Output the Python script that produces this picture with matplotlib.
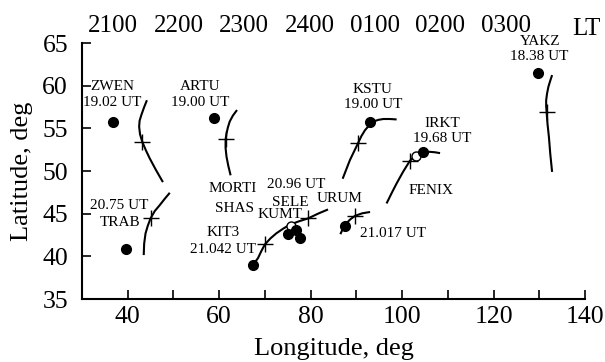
import matplotlib
matplotlib.use("Agg")
import matplotlib.pyplot as plt

plt.rcParams['font.family'] = ['Liberation Serif', 'DejaVu Serif']

# ---- data (lon, lat in degrees) ----
# station positions (filled dots)
dot_lon = [36.7, 58.8, 39.6, 67.3, 75.1, 76.8, 77.6, 87.5, 93.0, 104.5, 129.8]
dot_lat = [55.7, 56.2, 40.9, 39.0, 42.6, 43.1, 42.1, 43.6, 55.7, 52.2, 61.5]

# open markers
open_lon = [103.0, 75.8]
open_lat = [51.75, 43.5]

# crosses on tracks
cross_lon = [43.2, 45.0, 61.4, 70.0, 79.45, 89.7, 90.4, 101.7, 131.6]
cross_lat = [53.4, 44.45, 53.7, 41.4, 44.45, 44.75, 53.3, 51.2, 56.9]

# tracks
zwen_lon = [44.2, 43.6, 43.0, 42.6, 42.5, 42.7, 43.2, 44.0, 44.8, 46.2, 47.7]
zwen_lat = [58.3, 57.5, 56.6, 55.9, 55.2, 54.3, 53.4, 52.4, 51.5, 50.1, 48.7]
trab_lon = [43.5, 43.6, 43.9, 44.4, 45.0, 45.9, 47.0, 48.1, 49.2]
trab_lat = [40.15, 41.5, 42.7, 43.6, 44.45, 45.3, 46.0, 46.75, 47.45]
artu_lon = [63.9, 63.0, 62.3, 61.9, 61.6, 61.4, 61.4, 61.6, 62.0, 62.5]
artu_lat = [57.15, 56.5, 55.8, 55.1, 54.4, 53.7, 52.7, 51.7, 50.6, 49.5]
kit3_lon = [67.4, 67.8, 68.5, 69.2, 70.0, 71.2, 72.5, 74.0, 75.4, 77.4, 79.45, 81.6, 83.8]
kit3_lat = [38.8, 39.3, 39.8, 40.6, 41.4, 42.1, 42.7, 43.25, 43.7, 44.1, 44.45, 45.0, 45.5]
urum_lon = [86.5, 87.1, 87.85, 88.7, 89.7, 91.3, 93.0]
urum_lat = [42.6, 43.3, 43.9, 44.35, 44.75, 45.05, 45.2]
kstu_lon = [87.0, 87.8, 88.6, 89.5, 90.4, 91.1, 91.9, 92.8, 93.7, 94.8, 95.9, 97.3, 98.8]
kstu_lat = [49.1, 50.2, 51.3, 52.3, 53.3, 54.1, 54.8, 55.35, 55.8, 56.0, 56.1, 56.1, 56.05]
irkt_lon = [96.6, 97.7, 98.8, 100.2, 101.7, 102.3, 103.0, 103.7, 104.5, 105.3, 106.1, 107.2, 108.3]
irkt_lat = [46.2, 47.4, 48.55, 49.9, 51.2, 51.5, 51.75, 52.0, 52.2, 52.25, 52.25, 52.2, 52.1]
yakz_lon = [132.8, 132.4, 132.0, 131.7, 131.5, 131.5, 131.6, 131.8, 132.1, 132.4, 132.8]
yakz_lat = [61.25, 60.6, 59.9, 59.1, 58.3, 57.6, 56.9, 55.5, 54.0, 52.0, 49.9]

tracks = [(zwen_lon, zwen_lat), (trab_lon, trab_lat), (artu_lon, artu_lat),
          (kit3_lon, kit3_lat), (urum_lon, urum_lat), (kstu_lon, kstu_lat),
          (irkt_lon, irkt_lat), (yakz_lon, yakz_lat)]

# station labels
label_text = ["ZWEN", "19.02 UT", "ARTU", "19.00 UT", "KSTU", "19.00 UT",
              "IRKT", "19.68 UT", "YAKZ", "18.38 UT", "20.75 UT", "TRAB",
              "MORTI", "SHAS", "20.96 UT", "SELE", "KUMT", "URUM",
              "KIT3", "21.042 UT", "21.017 UT", "FENIX"]
label_lon = [36.6, 36.6, 55.75, 55.75, 93.6, 93.6,
             108.8, 108.8, 130.2, 129.9, 38.2, 38.25,
             63.0, 63.4, 76.9, 75.45, 73.3, 86.4,
             60.85, 60.85, 97.9, 106.3]
label_lat = [59.5, 57.6, 59.5, 57.6, 59.1, 57.35,
             55.2, 53.4, 64.77, 63.0, 45.6, 43.6,
             47.6, 45.2, 48.0, 45.9, 44.45, 46.4,
             42.4, 40.45, 42.3, 47.3]

# local time labels along top
lt_labels = ["2100", "2200", "2300", "2400", "0100", "0200", "0300"]
lt_lon = [36.8, 51.1, 65.4, 79.8, 94.05, 108.3, 122.7]

x_ticks = [40, 60, 80, 100, 120, 140]
x_minor = [30, 50, 70, 90, 110, 130]
y_ticks = [35, 40, 45, 50, 55, 60, 65]

# ---- figure ----
fig = plt.figure(figsize=(6.05, 3.62), dpi=100)
ax = fig.add_axes([0.1355, 0.174, 0.8315, 0.707])

for lon, lat in tracks:
    ax.plot(lon, lat, color='black', lw=1.5, solid_capstyle='butt', zorder=2)

ax.plot(open_lon, open_lat, 'o', ms=6.5, mfc='white', mec='black', mew=1.0, zorder=3)
ax.plot(dot_lon, dot_lat, 'o', ms=7, color='black', zorder=4)
ax.plot(cross_lon, cross_lat, '+', ms=11, mew=1.0, color='black', zorder=5)

for t, lo, la in zip(label_text, label_lon, label_lat):
    ax.text(lo, la, t, ha='center', va='baseline', fontsize=11, zorder=6)

ax.set_xlim(30, 140)
ax.set_ylim(35, 65)
ax.set_xticks(x_ticks)
ax.set_xticks(x_minor, minor=True)
ax.set_yticks(y_ticks)
ax.tick_params(axis='both', which='both', direction='in', length=6.5, width=1.2,
               labelsize=18.5, pad=5)
ax.tick_params(axis='y', pad=10)
ax.tick_params(axis='x', which='both', top=False)
ax.tick_params(axis='y', which='both', right=False)
for s in ['top', 'right']:
    ax.spines[s].set_visible(False)
for s in ['left', 'bottom']:
    ax.spines[s].set_linewidth(1.5)

ax.set_xlabel("Longitude, deg", fontsize=19)
ax.set_ylabel("Latitude, deg", fontsize=19)
ax.xaxis.set_label_coords(0.5, -0.153)
ax.yaxis.set_label_coords(-0.097, 0.5)

ax2 = ax.twiny()
ax2.set_xlim(ax.get_xlim())
ax2.set_xticks(lt_lon)
ax2.set_xticklabels(lt_labels)
ax2.tick_params(axis='x', length=0, labelsize=18, pad=4.5)
for s in ax2.spines.values():
    s.set_visible(False)
ax.text(140.4, 65.95, "LT", ha='center', va='baseline', fontsize=18, clip_on=False)

fig.savefig("out.png", dpi=100)
